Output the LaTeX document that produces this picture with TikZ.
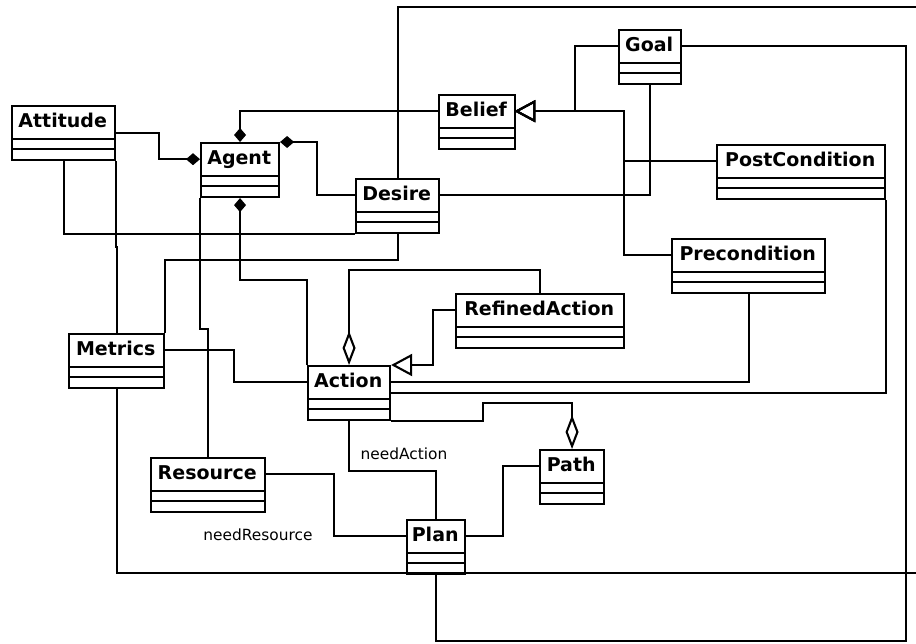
\documentclass[tikz,border=0pt]{standalone}
\usepackage{fontspec}
\setmainfont{DejaVu Sans}
\usetikzlibrary{arrows.meta}
\tikzset{
  classBox/.style={
    draw,
    line width=2.1pt,
    inner sep=0pt,
    minimum height=54pt,
    anchor=north west
  },
  className/.style={
    inner sep=0pt,
    minimum height=34pt,
    text height=14pt,
    text depth=4pt,
    anchor=north west,
    font=\bfseries\fontsize{19}{21}\selectfont
  },
  assocLabel/.style={
    inner sep=0pt,
    font=\fontsize{15.4}{17}\selectfont
  },
  link/.style={line width=2.1pt},
  composition/.style={link, -{Diamond[length=14pt, width=12pt]}},
  aggregation/.style={link, -{Diamond[open, length=34pt, width=13pt]}},
  generalization/.style={link, -{Triangle[open, length=21pt, width=22pt]}}
}
% class box: node name, top-left corner, width, title
\newcommand{\umlclass}[4]{%
  \node[classBox, minimum width=#3pt] (#1) at #2 {};
  \node[className, minimum width=#3pt] (#1-n) at #2 {#4};
  \draw[link] (#1-n.south west) -- (#1-n.south east)
    ([yshift=-10pt]#1-n.south west) -- ([yshift=-10pt]#1-n.south east);
}

\begin{document}
\begin{tikzpicture}[x=1pt, y=-1pt]
\useasboundingbox (0,0) rectangle (916,643);

% === Classes ===
\umlclass{Attitude}{(11,105)}{103}{Attitude}
\umlclass{Agent}{(200,142)}{78}{Agent}
\umlclass{Belief}{(438,94)}{76}{Belief}
\umlclass{Goal}{(618,29)}{62}{Goal}
\umlclass{Desire}{(355,178)}{83}{Desire}
\umlclass{PostCondition}{(716,144)}{168}{PostCondition}
\umlclass{Precondition}{(671,238)}{153}{Precondition}
\umlclass{RefinedAction}{(455,293)}{168}{RefinedAction}
\umlclass{Metrics}{(68,333)}{95}{Metrics}
\umlclass{Action}{(307,365)}{82}{Action}
\umlclass{Path}{(539,449)}{64}{Path}
\umlclass{Resource}{(150,457)}{114}{Resource}
\umlclass{Plan}{(406,519)}{58}{Plan}

% loose ends leaving the picture
\coordinate (offTop)   at (916,7);
\coordinate (offRight) at (916,573);
\coordinate (cornerBR) at (906,641);

% === Agent compositions ===
\draw[composition] (Attitude.east) -- ++(43,0) |- (Agent-n.west);
\draw[composition] (Belief-n.west) -| (Agent.north);
\draw[composition] (Desire-n.west) -- ++(-38,0) |- (Agent.north east);
\draw[composition] (Action.north west) -- ++(0,-85) -| (Agent.south);

% === Plain associations ===
\draw[link] (Attitude.south) |- (Desire.south west);
\draw[link] (Attitude.south east) -- ++(0,86) -| (Metrics.north);
\draw[link] (Desire.north) |- (offTop);
\draw[link] (Desire.south) -- ++(0,26) -| (Metrics.north east);
\draw[link] (Desire-n.east) -| (Goal.south);
\draw[link] (Agent.south west) -- ++(0,131) -| (Resource.north);
\draw[link] (Metrics-n.east) -- ++(71,0) |- (Action-n.west);
\draw[link] (Metrics.south) |- (offRight);
\draw[link] (Goal-n.east) -| (cornerBR) -| (Plan.south);
\draw[link] (Precondition.south) |- (Action-n.east);
\draw[link] (PostCondition.south east) |- (Action.east);
\draw[link] (Plan-n.east) -- ++(39,0) |- (Path-n.west);

% Belief generalizations
\draw[generalization] (Goal-n.west) -- ++(-43,0) |- (Belief-n.east);
\draw[generalization] (PostCondition-n.west) -- ++(-92,0) |- (Belief-n.east);
\draw[generalization] (Precondition-n.west) -- ++(-47,0) |- (Belief-n.east);

% Action hierarchy
\draw[aggregation] (RefinedAction.north) -- ++(0,-23) -| (Action.north);
\draw[generalization] (RefinedAction-n.west) -- ++(-22,0) |- (Action.north east);
\draw[aggregation] (Action.south east) -- ++(92,0) -- ++(0,-18) -| (Path.north);

% Plan needs
\draw[link] (Action.south) -- ++(0,50) -| (Plan.north);
\node[assocLabel] (needAction) at (404,454) {needAction};
\draw[link] (Resource-n.east) -- ++(70,0) |- (Plan-n.west);
\node[assocLabel] (needResource) at (258,535) {needResource};

\end{tikzpicture}
\end{document}
